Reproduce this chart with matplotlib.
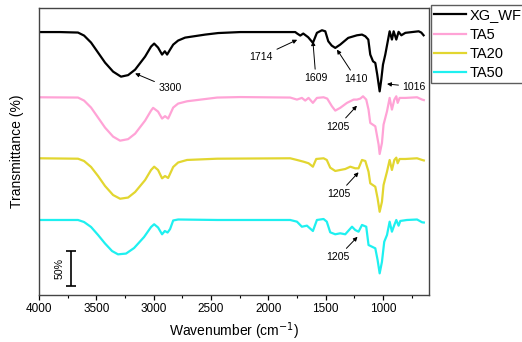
import matplotlib.pyplot as plt
from matplotlib.ticker import MultipleLocator

plt.rcParams["font.family"] = ["Liberation Sans", "DejaVu Sans"]

# FTIR spectra: wavenumber (cm-1) and transmittance (%)
wn_xg = [4000, 3817, 3660, 3607, 3546, 3485, 3424, 3354, 3285, 3223, 3162, 3075,
         3023, 2996, 2962, 2927, 2903, 2883, 2857, 2830, 2787, 2726, 2551, 2438,
         2246, 1766, 1749, 1722, 1696, 1653, 1612, 1577, 1533, 1504, 1478, 1448,
         1417, 1374, 1304, 1228, 1184, 1155, 1129, 1112, 1088, 1068, 1051, 1030,
         1016, 1001, 981, 943, 923, 908, 885, 865, 841, 806, 690, 667, 647]
t_xg = [100, 100, 99.3, 95, 85, 70.7, 56.4, 43.6, 36.4, 38.6, 46.4, 65,
        79.3, 83.6, 77.9, 67.9, 72.6, 67.9, 75, 82.1, 87.9, 92.1, 96.4, 98.6,
        100, 100, 97.9, 95, 97.9, 92.6, 84.6, 98.9, 102.6, 101.1, 86.9, 80.7,
        77.4, 82.1, 91.7, 95.4, 96.4, 94, 89.3, 67.9, 58.3, 56, 39.3, 15.4,
        32.1, 53.6, 67.9, 101.1, 89.3, 101.1, 89.3, 100.3, 95.4, 98.9, 101.1, 99.3, 95.4]

wn_ta5 = [4000, 3660, 3607, 3546, 3485, 3424, 3354, 3293, 3223, 3162, 3075, 3023,
          3005, 2962, 2927, 2901, 2874, 2830, 2787, 2709, 2447, 2246, 1810, 1751,
          1708, 1679, 1650, 1612, 1577, 1519, 1487, 1446, 1417, 1374, 1315, 1257,
          1228, 1199, 1175, 1147, 1127, 1112, 1068, 1039, 1030, 1010, 996, 966,
          943, 923, 902, 885, 873, 856, 806, 704, 660, 645]
t_ta5 = [100, 99.6, 95.3, 85.3, 71, 56.7, 43.9, 38.1, 40.3, 48.1, 66.7, 81,
         84.9, 79.6, 69.6, 73.1, 69.6, 85.3, 91, 94.3, 99.6, 100.3, 99.6, 96.7,
         99.1, 95.3, 99.1, 92, 99.1, 100, 98.1, 87.1, 81, 84.9, 92, 96.7,
         96.7, 98.1, 101.4, 96.7, 82.4, 63.4, 58.6, 32.4, 19.1, 34.9, 61, 80,
         99.1, 82.4, 96.7, 101.4, 92, 99.1, 99.1, 100, 96.7, 96]

wn_ta20 = [4000, 3660, 3607, 3546, 3485, 3424, 3354, 3293, 3223, 3162, 3075, 3023,
           2996, 2962, 2927, 2901, 2874, 2830, 2787, 2709, 2447, 1810, 1751, 1693,
           1650, 1612, 1583, 1519, 1491, 1461, 1417, 1374, 1330, 1286, 1243, 1214,
           1184, 1155, 1127, 1112, 1068, 1048, 1030, 1010, 996, 966, 943, 923,
           902, 885, 873, 856, 806, 704, 660, 645]
t_ta20 = [100, 99.4, 96.1, 87.6, 74.7, 60.4, 47.6, 42.3, 44, 51.9, 69, 83.3,
          88, 83.3, 71.4, 74.7, 71.9, 87.6, 94, 97.6, 99.4, 100, 97.6, 95.1,
          92.9, 88, 99, 100, 97.6, 86.6, 81.9, 83.3, 84.7, 88, 85.7, 85.7,
          97.6, 96.1, 80.9, 64.3, 59.4, 42.9, 23.7, 38, 61.9, 80.9, 97.6, 83.3,
          97.6, 100.9, 92.9, 99, 99, 100, 97.6, 96.9]

wn_ta50 = [4000, 3660, 3607, 3546, 3485, 3424, 3363, 3311, 3241, 3171, 3084, 3023,
           2996, 2962, 2927, 2903, 2879, 2857, 2830, 2787, 2447, 1810, 1751, 1708,
           1664, 1612, 1577, 1519, 1491, 1461, 1417, 1374, 1330, 1271, 1243, 1214,
           1184, 1147, 1127, 1097, 1068, 1048, 1030, 1010, 990, 966, 943, 923,
           902, 885, 865, 850, 792, 704, 660, 645]
t_ta50 = [100, 100, 97.1, 90, 78.6, 66.4, 55.7, 51, 52.1, 60, 75.7, 90,
          93.9, 89.3, 79.6, 84.3, 82.1, 87.1, 99.3, 100.7, 100, 100, 97.6, 90.4,
          91.9, 84.3, 100, 101.4, 97.6, 82.4, 79.6, 81, 79.6, 90.4, 85.7, 83.3,
          92.9, 90.4, 64.3, 61.9, 59.6, 42.9, 23.9, 40.4, 69, 78.6, 97.6, 83.3,
          92.9, 100, 91.9, 98.6, 100, 100.7, 96.7, 96.4]

names = ["XG_WF", "TA5", "TA20", "TA50"]
colors = ["black", "#ffa3d6", "#e2d630", "#1ef0f0"]
offsets = [275, 182, 95, 7]

fig = plt.figure(figsize=(5.22, 3.42), dpi=100)
ax = fig.add_axes([0.0747, 0.1374, 0.7471, 0.8406])

spectra = [(wn_xg, t_xg), (wn_ta5, t_ta5), (wn_ta20, t_ta20), (wn_ta50, t_ta50)]
for (wn, t), name, c, off in zip(spectra, names, colors, offsets):
    ax.plot(wn, [v + off for v in t], color=c, lw=1.6, label=name)

ax.set_xlim(4000, 600)
ax.set_ylim(0, 410)
ax.set_yticks([])
ax.xaxis.set_major_locator(MultipleLocator(500))
ax.xaxis.set_minor_locator(MultipleLocator(250))
ax.tick_params(axis="x", which="major", direction="out", length=3.5, width=0.9,
               labelsize=8.5, pad=2, top=False)
ax.tick_params(axis="x", which="minor", direction="out", length=2, width=0.8, top=False)
for s in ax.spines.values():
    s.set_linewidth(1.0)
    s.set_color("#444444")

ax.set_xlabel("Wavenumber (cm$^{-1}$)", fontsize=10, labelpad=4)
ax.set_ylabel("Transmittance (%)", fontsize=10, labelpad=11)

# peak assignments
arrow = dict(arrowstyle="-|>", color="black", lw=0.7, mutation_scale=6,
             shrinkA=1, shrinkB=0)
peaks = [
    ("3300", (3162, 316), (2857, 295)),
    ("1714", (1749, 364), (2063, 340)),
    ("1609", (1612, 362), (1586, 309)),
    ("1410", (1402, 350), (1234, 308)),
    ("1016", (966, 301), (728, 297)),
    ("1205", (1228, 270), (1397, 240)),
    ("1205", (1214, 175), (1389, 144)),
    ("1205", (1223, 83), (1394, 54)),
]
for txt, tip, pos in peaks:
    ax.annotate(txt, xy=tip, xytext=pos, fontsize=7.6, ha="center", va="center",
                arrowprops=arrow)

# 50 % transmittance scale bar
ax.errorbar([3718], [38.3], yerr=[25], color="black", capsize=3.5,
            elinewidth=1.2, capthick=1.2)
ax.text(3819, 38.3, "50%", rotation=90, fontsize=7.6, ha="center", va="center")

fig.legend(loc="upper left", bbox_to_anchor=(431 / 522, 1 - 5.5 / 342),
           borderaxespad=0, fontsize=10.5, frameon=True, fancybox=False,
           edgecolor="#333333", handlelength=2.2, handletextpad=0.23,
           labelspacing=0.36, borderpad=0.2)

fig.savefig("out.png", dpi=100)
